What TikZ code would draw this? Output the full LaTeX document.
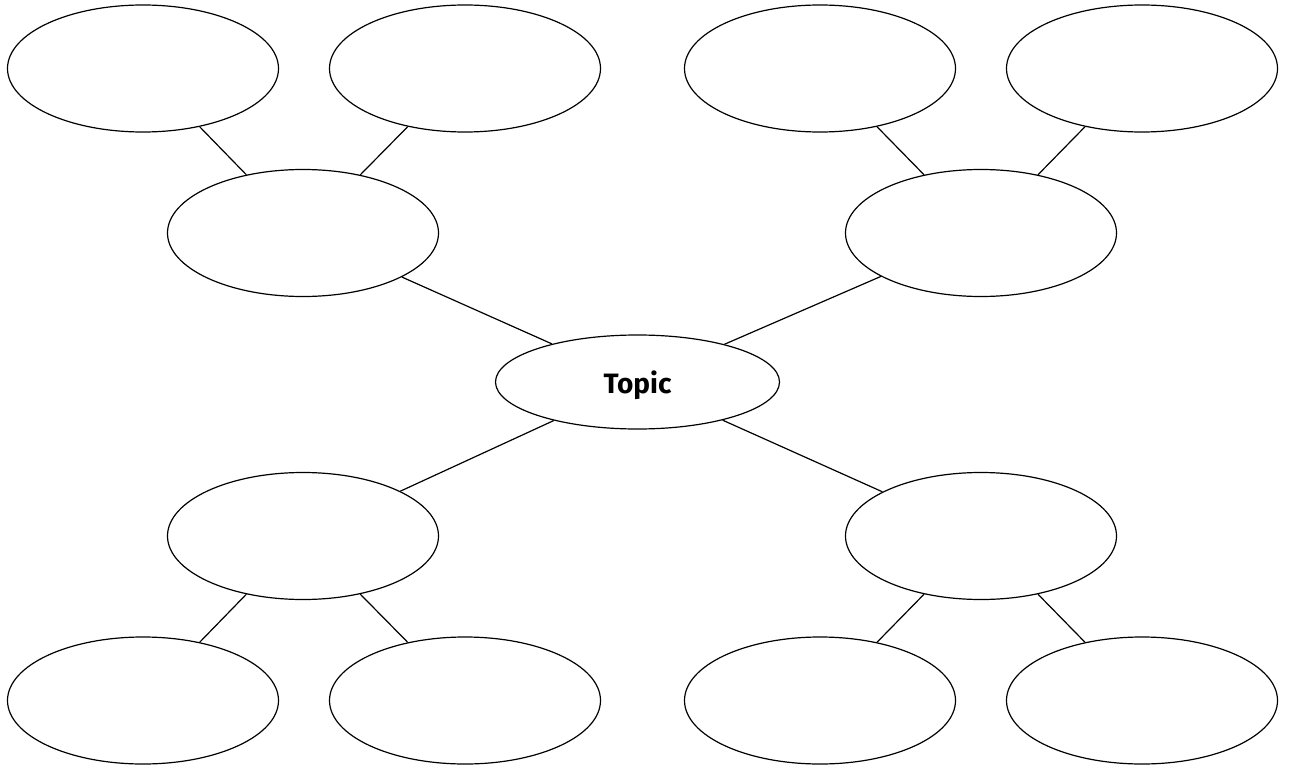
\documentclass[tikz,border=0pt]{standalone}
\usepackage{fontspec}
\setsansfont{Fira Sans}
\usetikzlibrary{shapes.geometric}
\begin{document}
\begin{tikzpicture}[x=1pt,y=-1pt,
  bub/.style={draw,ellipse,line width=1.2pt,minimum width=271pt,minimum height=127pt,inner sep=0pt},
  topicbub/.style={draw,ellipse,line width=1.2pt,minimum width=284pt,minimum height=94pt,inner sep=0pt,text depth=0pt,font=\sffamily\bfseries\fontsize{28}{32}\selectfont},
  link/.style={line width=1.2pt}]
\useasboundingbox (0,0) rectangle (1290,765);
\node[topicbub] (t) at (637.5,382) {Topic};
\node[bub] (ml) at (303,233) {};
\node[bub] (mr) at (981,233) {};
\node[bub] (bl) at (303,536) {};
\node[bub] (br) at (981,536) {};
\node[bub] (l1) at (143,68.5) {};
\node[bub] (l2) at (465,68.5) {};
\node[bub] (l3) at (820,68.5) {};
\node[bub] (l4) at (1142,68.5) {};
\node[bub] (l5) at (143,700.5) {};
\node[bub] (l6) at (465,700.5) {};
\node[bub] (l7) at (820,700.5) {};
\node[bub] (l8) at (1142,700.5) {};
\draw[link] (t) -- (ml);
\draw[link] (t) -- (mr);
\draw[link] (t) -- (bl);
\draw[link] (t) -- (br);
\draw[link] (ml) -- (l1);
\draw[link] (ml) -- (l2);
\draw[link] (mr) -- (l3);
\draw[link] (mr) -- (l4);
\draw[link] (bl) -- (l5);
\draw[link] (bl) -- (l6);
\draw[link] (br) -- (l7);
\draw[link] (br) -- (l8);
\end{tikzpicture}
\end{document}
